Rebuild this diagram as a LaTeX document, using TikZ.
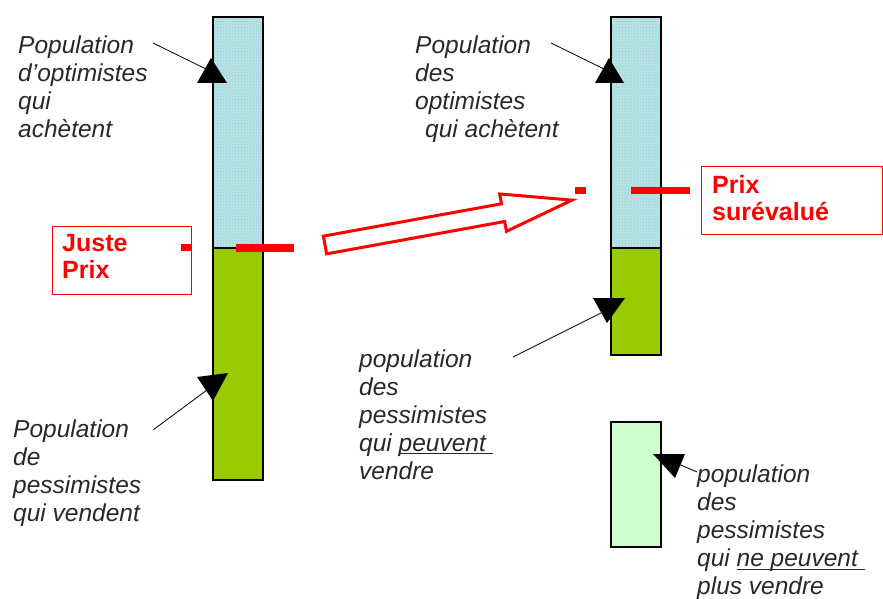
\documentclass[tikz,border=0pt]{standalone}
\usepackage{fontspec}
\setmainfont{Liberation Sans}
\usetikzlibrary{patterns}
\definecolor{skyfill}{RGB}{176,232,226}
\definecolor{skydots}{RGB}{185,175,228}
\definecolor{leaf}{RGB}{153,204,0}
\definecolor{paleleaf}{RGB}{204,255,204}
\definecolor{ink}{RGB}{40,40,40}
% underline placed just below the baseline, spaces included
\newcommand\ulbit[1]{\setbox0\hbox{#1}\rlap{\rule[-3pt]{\wd0}{1.2pt}}\box0}
\begin{document}
\begin{tikzpicture}[x=1pt,y=-1pt,
  bar/.style={draw=black, line width=1.2pt, inner sep=0, outer sep=0, anchor=north west},
  optbar/.style={bar, preaction={fill=skyfill}, pattern=crosshatch dots, pattern color=skydots},
  pessbar/.style={bar, fill=leaf},
  palebar/.style={bar, fill=paleleaf},
  txt/.style={font=\fontsize{24.5}{28}\selectfont\itshape, text=ink, align=left, inner sep=0, anchor=north west},
  redtxt/.style={font=\fontsize{25}{27}\selectfont\bfseries, text=red, align=left, inner sep=0, anchor=north west},
  pricebox/.style={draw=red, line width=1.4pt, inner sep=0, anchor=north west},
  pointer/.style={draw=black, line width=0.8pt},
  tri/.style={fill=black}
]
\useasboundingbox (0,0) rectangle (883,599);

% left column: before the price rise
\node[optbar, minimum width=50, minimum height=231] (optL) at (213,17) {};
\node[pessbar, minimum width=50, minimum height=232] (pessL) at (213,248) {};

% right column: after the price rise
\node[optbar, minimum width=50, minimum height=231] (optR) at (611,17) {};
\node[pessbar, minimum width=50, minimum height=107] (pessR) at (611,248) {};
\draw[line width=2pt] (optR.south west) -- (optR.south east);
\node[palebar, minimum width=50, minimum height=125] (paleR) at (611,422) {};

% price labels
\node[pricebox, minimum width=139, minimum height=68] (jbox) at (52,226) {};
\node[redtxt] (jtxt) at (62,234) {Juste\\Prix};
\fill[red] (181,244) rectangle (191,251);
\fill[red] (236,244) rectangle (294,252);

\node[pricebox, minimum width=181, minimum height=68] (sbox) at (701,166) {};
\node[redtxt] (stxt) at (712,175) {Prix\\surévalué};
\fill[red] (575,187) rectangle (586,194);
\fill[red] (631,187) rectangle (690,194);

% hollow arrow between the two states
\begin{scope}[shift={(325,245)}, rotate=10.3]
  \draw[red, line width=3pt, line join=miter, fill=white]
    (0,-9) -- (181,-9) -- (181,-19) -- (251,0) -- (181,19) -- (181,9) -- (0,9) -- cycle;
\end{scope}

% descriptive texts
\node[txt] (tOptL) at (18,35.5) {Population\\d'optimistes\\qui\\achètent};
\node[txt] (tOptR) at (415,35.5) {Population\\des\\optimistes\\\hspace*{10pt}qui achètent};
\node[txt] (tPessL) at (13,419.5) {Population\\de\\pessimistes\\qui vendent};
\node[txt] (tPessR) at (359,349.5) {population\\des\\pessimistes\\qui \ulbit{peuvent\ }\\vendre};
\node[txt] (tPale) at (697,465) {population\\des\\pessimistes\\qui \ulbit{ne peuvent\ }\\plus vendre};

% pointers
\coordinate (a1) at (153,43);  \coordinate (b1) at (208,70);
\coordinate (a2) at (551,43);  \coordinate (b2) at (606,70);
\coordinate (a3) at (153,430); \coordinate (b3) at (207,390);
\coordinate (a4) at (513,357); \coordinate (b4) at (603,312);
\coordinate (a5) at (697,472); \coordinate (b5) at (676,463);
\draw[pointer] (a1) -- (b1);
\draw[pointer] (a2) -- (b2);
\draw[pointer] (a3) -- (b3);
\draw[pointer] (a4) -- (b4);
\draw[pointer] (a5) -- (b5);
\fill[tri] (211,58) -- (197,83) -- (227,83) -- cycle;
\fill[tri] (609,58) -- (595,83) -- (624,83) -- cycle;
\fill[tri] (197,377) -- (228,373) -- (213,401) -- cycle;
\fill[tri] (593,298) -- (625,298) -- (607,323) -- cycle;
\fill[tri] (653,454) -- (685,454) -- (675,478) -- cycle;
\end{tikzpicture}
\end{document}
